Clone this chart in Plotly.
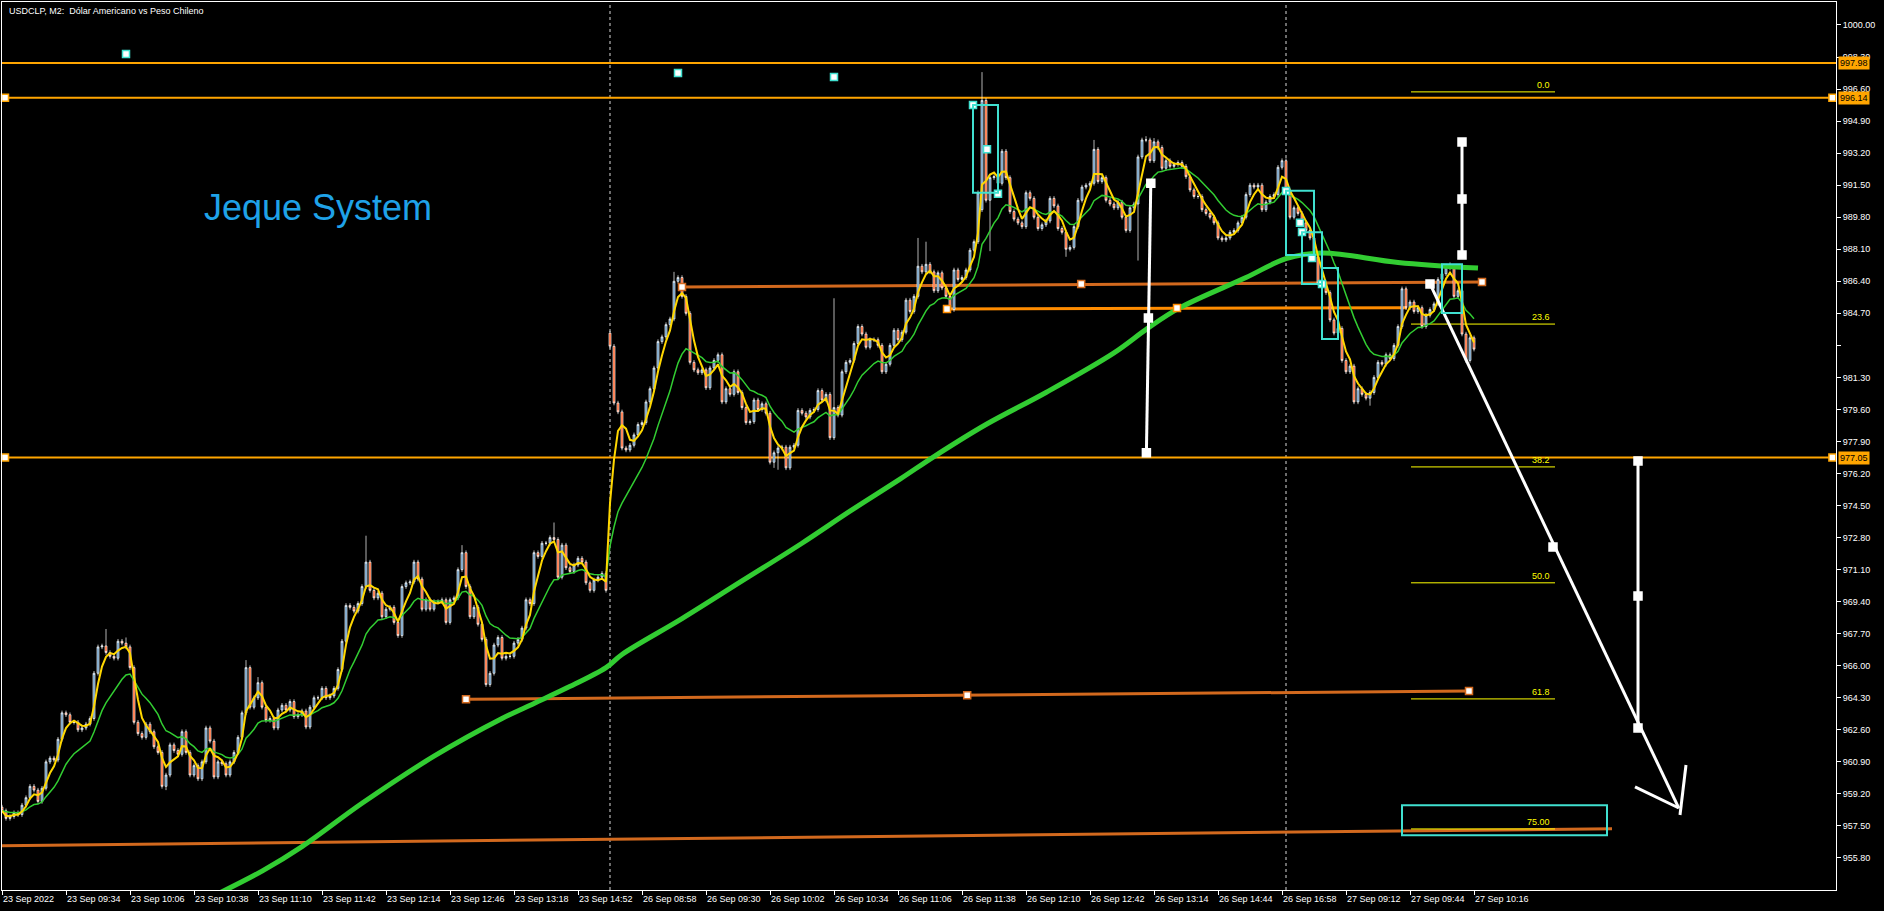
import numpy as np
import pandas as pd
import plotly.graph_objects as go

# ---------------- data ----------------
closes_a = [958.3, 957.9, 958.0, 958.2, 958.1, 958.6, 959.0, 959.6, 959.4, 958.8,
            959.5, 960.9, 961.1, 961.0, 962.1, 963.5, 963.4, 963.0, 963.0, 962.6,
            962.7, 962.9, 963.2, 965.6, 967.0, 967.05, 966.7, 966.5, 966.4, 967.3,
            967.2, 967.0, 965.9, 963.0, 962.4, 962.2, 962.9, 962.5, 961.7, 961.4,
            959.6, 960.2, 961.8, 961.5, 961.3, 962.5, 961.4, 960.2, 960.7, 960.0,
            960.9, 962.7, 962.0, 960.1, 960.9, 960.8, 960.2, 960.9, 961.4, 962.2,
            963.5, 965.9, 963.8, 964.3, 965.1, 963.8, 963.1, 963.2, 962.7, 963.65,
            963.9, 963.65, 964.1, 963.3, 963.4, 963.6, 962.75, 963.8, 964.3, 964.3]
closes_b = [964.8, 964.3, 964.4, 964.8, 965.8, 967.3, 969.2, 969.1, 968.9, 969.3,
            970.2, 971.5, 970.0, 969.6, 969.85, 968.6, 969.0, 969.1, 968.3, 967.6,
            970.2, 970.4, 970.45, 971.5, 970.6, 969.0, 969.5, 969.0, 969.4, 969.4,
            969.5, 968.3, 969.5, 969.6, 971.1, 972.0, 970.2, 968.6, 969.1, 968.2,
            967.4, 965.0, 965.6, 967.1, 967.5, 966.4, 966.5, 966.5, 967.2, 967.4,
            968.0, 969.5, 969.3, 972.0, 971.8, 972.5, 972.5, 972.8, 972.7, 970.7,
            972.4, 971.2, 971.0, 971.35, 971.7, 971.5, 970.4, 970.0, 970.55, 970.7,
            970.9, 970.0]
closes_c = [982.95, 979.94, 979.47, 977.55, 977.45, 977.7, 978.25, 978.8, 978.9, 980.0,
            980.7, 981.8, 983.2, 983.45, 984.1, 984.4, 986.4, 986.6, 985.6, 984.7,
            982.1, 981.7, 981.55, 981.7, 980.75, 981.8, 982.2, 982.5, 980.0, 980.7,
            980.4, 981.6, 980.5, 979.7, 978.9, 978.95, 980.1, 979.6, 979.9, 979.4,
            976.8, 977.3, 977.55, 977.6, 976.5, 977.6, 977.7, 979.55, 979.4, 979.2,
            979.55, 979.6, 980.6, 980.1, 980.4, 978.1, 979.7, 979.3, 981.6, 982.1,
            982.2, 983.1, 984.0, 983.6, 982.9, 983.3, 983.3, 983.0, 981.6, 982.0,
            983.0, 983.8, 983.3, 983.7, 985.4, 984.8, 985.6, 987.2, 986.9, 987.3,
            986.9, 985.9, 986.85, 986.05, 985.6, 984.9, 987.0, 986.5, 986.6, 987.0,
            988.05, 988.5, 991.1]
closes_d = [996.0, 990.7, 991.9, 991.95, 991.6, 993.3, 991.9, 990.1, 989.7, 989.5,
            989.3, 991.1, 990.8, 989.8, 989.2, 989.4, 989.6, 990.8, 990.4, 989.2,
            989.0, 988.1, 988.2, 989.3, 990.7, 991.4, 991.5, 991.6, 993.4, 991.7,
            991.9, 990.7, 990.5, 990.3, 990.6, 989.8, 989.1, 990.3, 990.5, 993.0,
            993.9, 993.9, 992.8, 993.8, 993.5, 992.4, 992.8, 992.5, 992.6, 992.7,
            992.5, 991.95, 991.25, 990.9, 990.9, 990.2, 990.0, 989.8, 989.5, 988.7,
            988.6, 988.7, 989.0, 989.1, 989.5, 989.8, 991.0, 991.5, 991.4, 991.5,
            990.2, 990.6, 990.9, 991.0, 992.45, 992.8, 991.2, 989.8, 990.3, 990.0,
            989.5, 989.1, 988.7, 987.7, 986.3, 986.1, 985.8, 984.35, 983.65, 983.9,
            982.2, 981.6, 981.9, 980.0, 980.7, 980.4, 980.2, 980.5, 981.3, 982.1,
            982.0, 982.5, 982.3, 983.0, 984.0, 986.0, 985.0, 985.3, 984.8, 985.0,
            984.0, 984.6, 984.9, 985.2, 986.5, 986.8, 987.2, 987.1, 985.6, 985.9,
            983.6, 982.2, 983.4, 982.8]
first_open = 958.5
gap_opens = {152: 983.65, 245: 990.2}
wick_highs = {26: 967.95, 31: 967.5, 61: 966.3, 64: 965.4, 91: 972.9, 103: 971.6,
              115: 972.4, 138: 973.6, 168: 986.9, 208: 985.5, 229: 988.7, 231: 988.5,
              245: 997.5, 273: 993.9, 286: 994.1, 288: 994.0, 361: 987.3, 362: 987.4}
wick_lows = {41: 959.4, 121: 964.9, 122: 965.0, 193: 976.5, 194: 976.4, 247: 988.0,
             266: 987.7, 284: 987.5, 338: 979.95, 339: 979.9, 342: 979.8}

slow_ma_bar = [54, 65, 75, 90, 108, 125, 133, 141, 151, 155, 170, 185, 200, 212, 224.5,
               233, 246, 261, 278, 286.4, 294.5, 311, 321, 330, 349, 369]
slow_ma_val = [953.9, 955.1, 956.4, 958.7, 961.2, 963.2, 964.0, 964.8, 965.9, 966.6, 968.5,
               970.5, 972.5, 974.2, 975.9, 977.1, 978.8, 980.5, 982.6, 983.9, 985.0, 986.6,
               987.6, 987.9, 987.4, 987.1]

tick_bars = list(range(0, 369, 16))
tick_labels = ["23 Sep 2022", "23 Sep 09:34", "23 Sep 10:06", "23 Sep 10:38", "23 Sep 11:10",
               "23 Sep 11:42", "23 Sep 12:14", "23 Sep 12:46", "23 Sep 13:18", "23 Sep 14:52",
               "26 Sep 08:58", "26 Sep 09:30", "26 Sep 10:02", "26 Sep 10:34", "26 Sep 11:06",
               "26 Sep 11:38", "26 Sep 12:10", "26 Sep 12:42", "26 Sep 13:14", "26 Sep 14:44",
               "26 Sep 16:58", "27 Sep 09:12", "27 Sep 09:44", "27 Sep 10:16"]
price_ticks = [955.80, 957.50, 959.20, 960.90, 962.60, 964.30, 966.00, 967.70, 969.40, 971.10,
               972.80, 974.50, 976.20, 977.90, 979.60, 981.30, 983.00, 984.70, 986.40, 988.10,
               989.80, 991.50, 993.20, 994.90, 996.60, 998.30, 1000.00]
day_separators = [152, 321]

hline_prices = [997.98, 996.14, 977.05]
hline_handles = [(0.75, 996.14), (457.6, 996.14), (0.75, 977.05), (457.6, 977.05)]

choc_lines = [((116, 964.22), (366.75, 964.66)),
              ((170, 986.1), (370, 986.36)),
              ((-0.5, 956.45), (402.5, 957.35))]
choc_handles = [(116, 964.22), (241.3, 964.44), (366.75, 964.66),
                (170, 986.1), (269.8, 986.26), (370, 986.36)]
orange_line = ((236.25, 984.93), (351.25, 985.0))
orange_handles = [(236.25, 984.93), (293.75, 984.98)]

cyan_boxes = [(242.75, 249, 995.75, 991.1), (321, 328, 991.2, 987.8), (325, 330, 989.0, 986.26),
              (330, 334, 987.1, 983.34), (360, 365, 987.3, 984.72), (350, 401.25, 958.6, 957.0)]
cyan_handles = [(242.75, 995.75), (246.25, 993.4), (249, 991.05), (321, 991.19), (324.5, 989.5),
                (327.5, 987.64), (325, 989.02), (330, 986.26), (31, 998.46), (169, 997.45),
                (208, 997.24)]

fib_names = ["0.0", "23.6", "38.2", "50.0", "61.8", "75.00"]
fib_prices = [996.45, 984.13, 976.55, 970.40, 964.24, 957.34]
fib_x = (352.25, 388.25)

white_paths = [[(287.2, 991.6), (286.1, 977.3)],
               [(365, 993.79), (365, 987.8)],
               [(409, 976.87), (409, 962.7)],
               [(357, 986.26), (419.2, 958.45)],
               [(408.25, 959.57), (419.2, 958.45)],
               [(419.5, 958.08), (421, 960.73)]]
white_handles = [(287.2, 991.6), (286.6, 984.45), (286.1, 977.3), (365, 993.79), (365, 990.77),
                 (365, 987.8), (409, 976.87), (409, 969.7), (409, 962.7), (357, 986.26),
                 (387.75, 972.3)]

# ---------------- OHLC build ----------------
closes = np.array(closes_a + closes_b + closes_c + closes_d)
n = len(closes)
bars = np.arange(n)
opens = np.empty(n)
opens[0] = first_open
opens[1:] = closes[:-1]
for k, v in gap_opens.items():
    opens[k] = v
highs = np.maximum(opens, closes) + 0.12
lows = np.minimum(opens, closes) - 0.12
for k, v in wick_highs.items():
    highs[k] = max(highs[k], v)
for k, v in wick_lows.items():
    lows[k] = min(lows[k], v)

def lwma(a, p):
    out = []
    for k in range(len(a)):
        seg = a[max(0, k - p + 1):k + 1]
        w = np.arange(1, len(seg) + 1)
        out.append((seg * w).sum() / w.sum())
    return np.array(out)

fast_ma = lwma(closes, 5)
mid_ma = pd.Series(closes).ewm(span=14, adjust=False).mean().values

# ---------------- figure ----------------
fig = go.Figure()
shapes = []
for x in day_separators:
    shapes.append(dict(type="line", xref="x", yref="paper", x0=x, x1=x, y0=0, y1=1,
                       line=dict(color="#D8D8D8", width=1, dash="3px,3px"), layer="below"))
for p in hline_prices:
    shapes.append(dict(type="line", xref="paper", yref="y", x0=0, x1=1, y0=p, y1=p,
                       line=dict(color="#FFA500", width=2), layer="below"))
for (a, b) in choc_lines:
    shapes.append(dict(type="line", x0=a[0], y0=a[1], x1=b[0], y1=b[1],
                       line=dict(color="#D2691E", width=3), layer="below"))
shapes.append(dict(type="line", x0=orange_line[0][0], y0=orange_line[0][1],
                   x1=orange_line[1][0], y1=orange_line[1][1],
                   line=dict(color="#FF8C00", width=3), layer="below"))
for p in fib_prices:
    shapes.append(dict(type="line", x0=fib_x[0], x1=fib_x[1], y0=p, y1=p,
                       line=dict(color="#FFFF00", width=1), layer="below"))
for (x0, x1, y0, y1) in cyan_boxes:
    shapes.append(dict(type="rect", x0=x0, x1=x1, y0=y0, y1=y1,
                       line=dict(color="#40E0D0", width=2), fillcolor="rgba(0,0,0,0)"))

fig.add_trace(go.Scatter(x=slow_ma_bar, y=slow_ma_val, mode="lines",
                         line=dict(color="#32CD32", width=5, shape="spline", smoothing=1.0),
                         hoverinfo="skip"))
fig.add_trace(go.Candlestick(x=bars, open=opens, high=highs, low=lows, close=closes,
                             increasing=dict(line=dict(color="white", width=0.7), fillcolor="#4682B4"),
                             decreasing=dict(line=dict(color="white", width=0.7), fillcolor="#FF4500"),
                             whiskerwidth=0))
fig.add_trace(go.Scatter(x=bars, y=mid_ma, mode="lines",
                         line=dict(color="#32CD32", width=1.5), hoverinfo="skip"))
fig.add_trace(go.Scatter(x=bars, y=fast_ma, mode="lines",
                         line=dict(color="#FFD700", width=2), hoverinfo="skip"))

for path in white_paths:
    fig.add_trace(go.Scatter(x=[pt[0] for pt in path], y=[pt[1] for pt in path], mode="lines",
                             line=dict(color="white", width=3), hoverinfo="skip"))

def handles(pts, border, size=7):
    fig.add_trace(go.Scatter(x=[p[0] for p in pts], y=[p[1] for p in pts], mode="markers",
                             marker=dict(symbol="square", size=size, color="white",
                                         line=dict(color=border, width=1.5)),
                             hoverinfo="skip", cliponaxis=False))

handles(hline_handles, "#FFA500")
handles(choc_handles, "#D2691E")
handles(orange_handles, "#FF8C00")
handles(cyan_handles, "#40E0D0")
handles(white_handles, "white", 8)

annotations = [
    dict(xref="paper", yref="paper", x=0, y=1, xshift=5, yshift=-2, xanchor="left", yanchor="top",
         text="USDCLP, M2:  Dólar Americano vs Peso Chileno", showarrow=False,
         font=dict(color="white", size=9, family="Liberation Sans")),
    dict(xref="paper", yref="paper", x=0.109, y=0.769, xanchor="left", yanchor="middle",
         text="Jeque System", showarrow=False,
         font=dict(color="#1FA2E8", size=36, family="Liberation Sans")),
]
for name, p in zip(fib_names, fib_prices):
    annotations.append(dict(x=fib_x[1], y=p, xanchor="right", yanchor="bottom", xshift=-3,
                            text=name, showarrow=False,
                            font=dict(color="#FFFF00", size=9, family="Liberation Sans")))
for p in hline_prices:
    annotations.append(dict(xref="paper", x=1, y=p, xanchor="left", yanchor="middle", xshift=2,
                            text="%.2f" % p, showarrow=False, bgcolor="#FFA500", borderpad=1,
                            font=dict(color="black", size=9, family="Liberation Sans")))

ytext = ["" if abs(v - 983.0) < 1e-6 else "%.2f" % v for v in price_ticks]

fig.update_layout(
    width=1884, height=911,
    paper_bgcolor="black", plot_bgcolor="black",
    margin=dict(l=2, r=48, t=2, b=21),
    showlegend=False,
    shapes=shapes, annotations=annotations,
    xaxis=dict(range=[0, 458.5], tickmode="array", tickvals=tick_bars, ticktext=tick_labels,
               showgrid=False, zeroline=False, showline=True, linecolor="white", linewidth=1,
               mirror=True, ticks="outside", ticklen=4, tickcolor="white",
               ticklabelposition="outside right",
               tickfont=dict(color="white", size=9, family="Liberation Sans"),
               rangeslider=dict(visible=False), fixedrange=True),
    yaxis=dict(side="right", range=[954.1, 1001.22], tickmode="array", tickvals=price_ticks,
               ticktext=ytext, showgrid=False, zeroline=False, showline=True, linecolor="white",
               linewidth=1, mirror=True, ticks="outside", ticklen=4, tickcolor="white",
               tickfont=dict(color="white", size=9, family="Liberation Sans"), fixedrange=True),
)

fig.write_html("out.html", config={"displayModeBar": False},
               post_script="document.body.style.margin='0';document.body.style.background='black';")
